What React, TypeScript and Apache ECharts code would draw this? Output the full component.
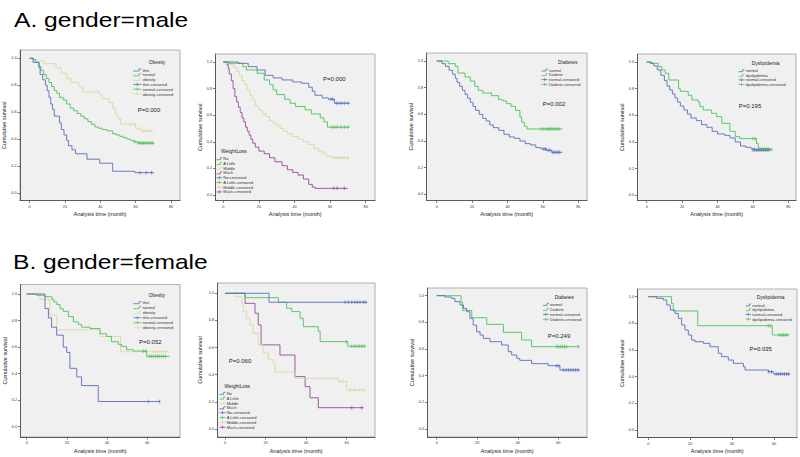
import React, { useEffect, useRef } from 'react';
import * as echarts from 'echarts';

// ---------------- data ----------------
// A. male — Obesity
const mObThin = [[0,1],[2,0.97],[5.5,0.93],[6,0.88],[7.5,0.84],[9,0.8],[10,0.76],[11,0.71],[12,0.66],[13,0.62],[14,0.57],[17,0.52],[18,0.47],[19.5,0.43],[21,0.39],[22,0.35],[24,0.32],[26,0.29],[32.5,0.25],[39.7,0.22],[47,0.16],[59.6,0.15],[70.4,0.15]];
const mObThinC = [[62.5,0.15],[66,0.15],[69,0.15]];
const mObNormal = [[0,1],[2,0.99],[3.5,0.97],[5,0.94],[6.5,0.91],[8,0.88],[9.5,0.85],[11,0.82],[12.5,0.79],[14,0.76],[15.5,0.74],[17,0.71],[19,0.69],[21,0.66],[23,0.63],[25,0.61],[27,0.59],[29,0.57],[31,0.55],[33,0.53],[35,0.51],[37,0.49],[39,0.48],[41,0.47],[44,0.46],[47,0.44],[49,0.43],[51,0.42],[53,0.41],[55,0.4],[57,0.39],[59,0.38],[61,0.37],[70.5,0.37]];
const mObNormalC = [[59.5,0.38],[61.5,0.37],[62.5,0.37],[63.5,0.37],[64.5,0.37],[65.5,0.37],[66.5,0.37],[67.5,0.37],[68.5,0.37],[69.5,0.37]];
const mObObesity = [[0,1],[3,0.98],[8,0.96],[15,0.93],[18,0.89],[21,0.85],[23.5,0.82],[28,0.79],[30,0.75],[39.5,0.73],[41,0.7],[45,0.67],[47,0.63],[48.5,0.58],[50,0.55],[51.5,0.51],[60,0.48],[63,0.46],[70,0.46]];
const mObObesityC = [[57,0.51],[59,0.51],[64.5,0.46],[66.5,0.46],[68.5,0.46]];

// A. male — WeightLoss
const mWlNo = [[0,1],[8.5,0.99],[14,0.965],[19,0.94],[23.5,0.9],[28,0.88],[33,0.865],[39,0.85],[44,0.84],[48,0.81],[50,0.78],[51.5,0.75],[55.5,0.73],[59,0.72],[62.5,0.69],[71,0.69]];
const mWlNoC = [[60.5,0.72],[61.5,0.72],[63.5,0.69],[65,0.69],[66.5,0.69],[68,0.69],[70,0.69]];
const mWlLittle = [[0,1],[3,0.99],[11,0.965],[13,0.94],[19,0.915],[23,0.865],[26,0.83],[28,0.79],[30,0.755],[34.5,0.72],[37.5,0.69],[40.5,0.665],[46,0.64],[49.5,0.61],[54.5,0.58],[56.5,0.55],[58.5,0.51],[71,0.51]];
const mWlLittleC = [[61,0.51],[62.5,0.51],[64,0.51],[66,0.51],[68,0.51],[70,0.51]];
const mWlMiddle = [[0,1],[2,0.99],[4,0.98],[6,0.96],[7.5,0.93],[9,0.9],[10.5,0.86],[12,0.83],[13.5,0.79],[15,0.75],[16.5,0.71],[18,0.67],[20,0.64],[22,0.61],[24,0.59],[26,0.56],[28,0.54],[30,0.52],[32,0.5],[34,0.48],[36,0.46],[39,0.44],[42,0.42],[45,0.4],[48,0.38],[51,0.35],[53.5,0.33],[56,0.31],[58,0.29],[61,0.28],[71,0.28]];
const mWlMiddleC = [[62,0.28],[63.5,0.28],[65,0.28],[66.5,0.28],[68,0.28],[70,0.28]];
const mWlMuch = [[0,1],[2,0.98],[2.8,0.95],[3.3,0.91],[4.5,0.86],[5.5,0.8],[6.5,0.74],[7.5,0.7],[8.5,0.66],[9.5,0.62],[10.5,0.58],[11.5,0.55],[12.5,0.51],[13.5,0.48],[14.5,0.45],[15.5,0.42],[16.5,0.39],[18,0.36],[20,0.33],[23,0.31],[26,0.28],[29,0.25],[33,0.22],[36,0.19],[39,0.17],[42,0.15],[45,0.12],[48,0.08],[50,0.06],[51.5,0.05],[70,0.05]];
const mWlMuchC = [[62,0.05],[64,0.05],[68,0.05]];

// A. male — Diabetes
const mDbNormal = [[0,1],[3,0.98],[5,0.96],[7,0.93],[9,0.9],[10.5,0.87],[11.5,0.84],[13,0.81],[14.5,0.78],[16,0.75],[17.5,0.72],[19,0.69],[20.5,0.66],[22,0.63],[24,0.6],[26,0.57],[28,0.55],[30,0.52],[32,0.5],[35,0.48],[38,0.45],[41,0.43],[44,0.42],[47,0.4],[50,0.38],[53,0.37],[56,0.35],[59,0.34],[62,0.33],[65,0.315],[71,0.315]];
const mDbNormalC = [[60.5,0.34],[61.5,0.34],[63,0.33],[64,0.33],[65.5,0.315],[66.5,0.315],[67.5,0.315],[68.5,0.315],[69.5,0.315]];
const mDbDiab = [[0,1],[6.5,0.98],[10.5,0.96],[12,0.91],[16,0.88],[19,0.85],[21.5,0.81],[23.5,0.78],[26,0.76],[31,0.74],[35,0.71],[37.5,0.7],[39.5,0.68],[42,0.66],[44.5,0.63],[47,0.58],[48,0.54],[49.5,0.51],[51,0.49],[71,0.49]];
const mDbDiabC = [[59,0.49],[60.5,0.49],[62,0.49],[63,0.49],[64,0.49],[65,0.49],[66,0.49],[67,0.49],[68,0.49],[69,0.49]];

// A. male — Dyslipidemia
const mDyNormal = [[0,1],[2,0.99],[4,0.97],[6,0.94],[8,0.9],[10,0.86],[11.5,0.82],[13,0.79],[14.5,0.76],[16,0.73],[17.5,0.7],[19,0.67],[21,0.64],[23,0.61],[25,0.58],[28,0.56],[31,0.53],[34,0.51],[37,0.48],[40,0.46],[44,0.45],[47,0.43],[50,0.4],[53,0.37],[56,0.36],[59,0.35],[61,0.34],[71,0.34]];
const mDyNormalC = [[60,0.34],[61,0.34],[62,0.34],[63,0.34],[64,0.34],[65,0.34],[66,0.34],[67,0.34],[68,0.34],[69,0.34]];
const mDyDys = [[0,1],[3,0.99],[6.5,0.965],[8.5,0.94],[10.5,0.915],[12.5,0.865],[18,0.8],[19,0.78],[23.5,0.75],[25.5,0.715],[29,0.7],[30,0.665],[32,0.64],[36.7,0.615],[39.5,0.59],[42.4,0.54],[47,0.48],[50,0.44],[52.7,0.425],[62,0.39],[63,0.35],[71,0.35]];
const mDyDysC = [[60,0.425],[61.3,0.425],[64,0.35],[65.5,0.35],[67,0.35],[68.5,0.35]];

// B. female — Obesity
const fObThin = [[0,1],[9.1,0.89],[10.8,0.82],[12.4,0.75],[14.9,0.69],[18.2,0.6],[19.9,0.56],[21.5,0.44],[24.9,0.375],[27.3,0.31],[35.6,0.19],[66.3,0.19]];
const fObThinC = [[60.5,0.19],[66,0.19]];
const fObNormal = [[0,1],[5,0.99],[9,0.98],[12.5,0.96],[13.5,0.94],[15,0.92],[16.6,0.89],[18.2,0.87],[20.7,0.83],[23.2,0.79],[25.7,0.77],[27.3,0.75],[31.5,0.74],[36.5,0.7],[39.8,0.68],[42.2,0.64],[45.6,0.62],[47.2,0.605],[49.7,0.58],[53,0.57],[59.7,0.53],[71,0.53]];
const fObNormalC = [[58,0.57],[59.2,0.57],[61,0.53],[62,0.53],[63,0.53],[64,0.53],[65,0.53],[66,0.53],[67,0.53],[68,0.53],[69,0.53]];
const fObObesity = [[0,1],[6.6,0.96],[11.5,0.84],[14.9,0.73],[36.5,0.68],[46.7,0.565],[71,0.565]];
const fObObesityC = [[63,0.565],[65,0.565],[67,0.565],[69,0.565]];

// B. female — WeightLoss
const fWlNo = [[0,1],[21.7,0.934],[69.9,0.934]];
const fWlNoC = [[59.2,0.934],[60.8,0.934],[62.5,0.934],[64,0.934],[65.3,0.934],[66.6,0.934],[68.2,0.934],[69.4,0.934]];
const fWlLittle = [[0,1],[9.9,0.968],[26.3,0.934],[30.4,0.89],[32.9,0.865],[37,0.816],[38.6,0.754],[46,0.72],[46.9,0.644],[60.5,0.61],[69.5,0.61]];
const fWlLittleC = [[59.8,0.644],[62.5,0.61],[63.8,0.61],[65,0.61],[66.2,0.61],[67.4,0.61],[68.6,0.61]];
const fWlMiddle = [[0,1],[4.9,0.975],[8.2,0.926],[9,0.865],[10.5,0.816],[12.3,0.767],[13.9,0.705],[16.4,0.62],[18.9,0.56],[21.4,0.51],[23.8,0.484],[24.7,0.42],[34.5,0.373],[55.9,0.35],[60,0.287],[69.5,0.287]];
const fWlMiddleC = [[57,0.35],[58.3,0.35],[62,0.287],[64,0.287],[66,0.287],[68,0.287]];
const fWlMuch = [[0,1],[9.9,0.926],[14.8,0.853],[16.4,0.767],[17.8,0.62],[27.1,0.545],[34.5,0.386],[39.5,0.312],[41.9,0.23],[46,0.157],[68.2,0.157]];
const fWlMuchC = [[62.5,0.157],[67.4,0.157]];

// B. female — Diabetes
const fDbNormal = [[0,1],[4.1,0.99],[7.4,0.98],[9,0.955],[11.5,0.93],[13.2,0.905],[14.8,0.88],[16.4,0.83],[18,0.78],[19.7,0.73],[21.4,0.705],[23,0.68],[26.3,0.655],[32,0.63],[35.3,0.58],[37,0.555],[39.5,0.53],[41,0.515],[46.8,0.49],[55,0.475],[60.8,0.4425],[70.5,0.4425]];
const fDbNormalC = [[59.2,0.475],[60.2,0.475],[62.5,0.4425],[63.8,0.4425],[65,0.4425],[66.2,0.4425],[67.4,0.4425],[68.6,0.4425],[69.8,0.4425]];
const fDbDiab = [[0,1],[12,0.95],[12.8,0.89],[17.3,0.835],[24.7,0.785],[32.9,0.725],[41.9,0.6675],[46.8,0.6175],[69.9,0.6175]];
const fDbDiabC = [[59.2,0.6175],[60,0.6175],[61,0.6175],[62,0.6175],[63,0.6175],[64,0.6175],[69.9,0.6175]];

// B. female — Dyslipidemia
const fDyNormal = [[0,1],[4,0.9875],[7.2,0.975],[8.8,0.9375],[10.5,0.9],[12.7,0.875],[14.3,0.8375],[15.9,0.7875],[17.5,0.75],[19.1,0.7125],[20.7,0.675],[22.3,0.6625],[26.3,0.65],[29.4,0.625],[33.4,0.575],[35,0.55],[38.2,0.525],[40.6,0.5],[45.4,0.475],[46.2,0.45],[57.3,0.4375],[59.7,0.42],[67.6,0.42]];
const fDyNormalC = [[57.5,0.4375],[58.8,0.4375],[61,0.42],[62,0.42],[63,0.42],[64,0.42],[65,0.42],[66,0.42],[67,0.42]];
const fDyDys = [[0,1],[11.1,0.95],[11.9,0.8925],[23.6,0.7825],[59.2,0.7125],[66.8,0.7125]];
const fDyDysC = [[57.3,0.7825],[58.4,0.7825],[62.5,0.7125],[63.5,0.7125],[64.5,0.7125],[65.5,0.7125],[66.5,0.7125]];

// tick labels
const xTicksTop = [0, 20, 40, 60, 80];
const xTicksBottom = [0, 20, 40, 60];
const yTicks = [0, 0.2, 0.4, 0.6, 0.8, 1.0];

const sectionTitles = ['A. gender=male', 'B. gender=female'];
const pValues = ['P=0.000', 'P=0.000', 'P=0.002', 'P=0.195', 'P=0.052', 'P=0.060', 'P=0.249', 'P=0.035'];
const legendTitles = ['Obesity', 'WeightLoss', 'Diabetes', 'Dyslipidemia', 'Obesity', 'WeightLoss', 'Diabetes', 'Dyslipidemia'];
const obesityGroups = ['thin', 'normal', 'obesity'];
const weightGroups = ['No', 'A Little', 'Middle', 'Much'];
const diabetesGroups = ['normal', 'Diabete'];
const dysGroups = ['normal', 'dyslipidemia'];

// ---------------- styling / layout ----------------
const FONT = '"Liberation Sans", Arial, Helvetica, sans-serif';
const BLUE = '#5a6dc0';
const GREEN = '#4cc458';
const TAN = '#dcd6a2';
const PURPLE = '#96489a';
const COLORS4 = [BLUE, GREEN, TAN, PURPLE];

type Layout = { L: number; T: number; R: number; B: number; x0: number; xr: number; xRef: number; y1: number; y0: number; yNameGap: number };
type LegendPos = { sx: number; textX: number; y0: number; dy: number; tx: number; ty: number };
type Panel = { layout: Layout; legend: LegendPos; pPos: [number, number]; groups: string[]; curves: number[][][]; cens: number[][][]; xTicks: number[] };

const panels: Panel[] = [
  { layout: { L: 20, T: 50, R: 180, B: 200.5, x0: 29.5, xr: 171, xRef: 80, y1: 58.3, y0: 192.8, yNameGap: 10.2 },
    legend: { sx: 133, textX: 142.7, y0: 70, dy: 4.8, tx: 157, ty: 62.3 }, pPos: [149, 110.3],
    groups: obesityGroups, curves: [mObThin, mObNormal, mObObesity], cens: [mObThinC, mObNormalC, mObObesityC], xTicks: xTicksTop },
  { layout: { L: 215.5, T: 54, R: 375, B: 200.5, x0: 223.3, xr: 365.7, xRef: 80, y1: 62, y0: 195, yNameGap: 12.7 },
    legend: { sx: 216.5, textX: 223.3, y0: 158.7, dy: 4.75, tx: 234, ty: 151.7 }, pPos: [334.3, 79.3],
    groups: weightGroups, curves: [mWlNo, mWlLittle, mWlMiddle, mWlMuch], cens: [mWlNoC, mWlLittleC, mWlMiddleC, mWlMuchC], xTicks: xTicksTop },
  { layout: { L: 426.5, T: 53, R: 587, B: 200.5, x0: 436.7, xr: 578.3, xRef: 80, y1: 61, y0: 194.3, yNameGap: 8.7 },
    legend: { sx: 541.5, textX: 549, y0: 70, dy: 4.8, tx: 567.7, ty: 62.7 }, pPos: [554, 104.3],
    groups: diabetesGroups, curves: [mDbNormal, mDbDiab], cens: [mDbNormalC, mDbDiabC], xTicks: xTicksTop },
  { layout: { L: 637.5, T: 54, R: 796, B: 200.5, x0: 646.7, xr: 788.3, xRef: 80, y1: 62, y0: 195.3, yNameGap: 9.7 },
    legend: { sx: 738.5, textX: 745.7, y0: 70.7, dy: 4.6, tx: 765.7, ty: 63.3 }, pPos: [750, 105.7],
    groups: dysGroups, curves: [mDyNormal, mDyDys], cens: [mDyNormalC, mDyDysC], xTicks: xTicksTop },
  { layout: { L: 20.5, T: 284.5, R: 180, B: 437, x0: 26.7, xr: 147.3, xRef: 60, y1: 294, y0: 426.7, yNameGap: 12.7 },
    legend: { sx: 133.3, textX: 142.7, y0: 302.7, dy: 5, tx: 156.7, ty: 295 }, pPos: [150.3, 341.7],
    groups: obesityGroups, curves: [fObThin, fObNormal, fObObesity], cens: [fObThinC, fObNormalC, fObObesityC], xTicks: xTicksBottom },
  { layout: { L: 217.5, T: 283, R: 375, B: 437, x0: 225, xr: 346.7, xRef: 60, y1: 293.3, y0: 429, yNameGap: 14.7 },
    legend: { sx: 219.5, textX: 226.7, y0: 393.3, dy: 4.85, tx: 237.3, ty: 386.7 }, pPos: [240, 361],
    groups: weightGroups, curves: [fWlNo, fWlLittle, fWlMiddle, fWlMuch], cens: [fWlNoC, fWlLittleC, fWlMiddleC, fWlMuchC], xTicks: xTicksBottom },
  { layout: { L: 427.5, T: 288, R: 587, B: 437, x0: 436.7, xr: 558.3, xRef: 60, y1: 295.7, y0: 429, yNameGap: 9.7 },
    legend: { sx: 543, textX: 550, y0: 304.3, dy: 5, tx: 564.3, ty: 297 }, pPos: [559, 336],
    groups: diabetesGroups, curves: [fDbNormal, fDbDiab], cens: [fDbNormalC, fDbDiabC], xTicks: xTicksBottom },
  { layout: { L: 637.5, T: 289, R: 797, B: 437.5, x0: 648.3, xr: 774, xRef: 60, y1: 296.7, y0: 430, yNameGap: 9.7 },
    legend: { sx: 745.5, textX: 752.3, y0: 305, dy: 4.7, tx: 770.7, ty: 297.7 }, pPos: [760.7, 349],
    groups: dysGroups, curves: [fDyNormal, fDyDys], cens: [fDyNormalC, fDyDysC], xTicks: xTicksBottom },
];

const CROSS = 'path://M5,0L5,10M0,5L10,5';

function buildOption() {
  const grid: any[] = [];
  const xAxis: any[] = [];
  const yAxis: any[] = [];
  const series: any[] = [];
  const graphic: any[] = [];

  panels.forEach((p, i) => {
    const g = p.layout;
    const xs = (g.xr - g.x0) / g.xRef;
    const ys = g.y0 - g.y1;
    grid.push({
      left: g.L, top: g.T, width: g.R - g.L, height: g.B - g.T,
      show: true, backgroundColor: '#f0f0f0', borderColor: '#b0b0b0', borderWidth: 1,
      containLabel: false, outerBoundsMode: 'none',
    });
    xAxis.push({
      gridIndex: i, type: 'value',
      min: (g.L - g.x0) / xs, max: (g.R - g.x0) / xs,
      axisLine: { show: true, onZero: false, lineStyle: { color: '#5a5a5a', width: 1 } },
      axisTick: { show: true, length: 2.5, customValues: p.xTicks, lineStyle: { color: '#5a5a5a', width: 0.8 } },
      axisLabel: { show: true, customValues: p.xTicks, fontSize: 3.8, color: '#333', margin: 4, fontFamily: FONT },
      splitLine: { show: false },
      name: 'Analysis time (month)', nameLocation: 'middle', nameGap: 10.6,
      nameTextStyle: { fontSize: 5.5, color: '#222', fontFamily: FONT },
    });
    yAxis.push({
      gridIndex: i, type: 'value',
      min: -(g.B - g.y0) / ys, max: 1 + (g.y1 - g.T) / ys,
      axisLine: { show: true, onZero: false, lineStyle: { color: '#5a5a5a', width: 1 } },
      axisTick: { show: true, length: 2.5, customValues: yTicks, lineStyle: { color: '#5a5a5a', width: 0.8 } },
      axisLabel: { show: true, customValues: yTicks, fontSize: 3.8, color: '#333', margin: 3.5, fontFamily: FONT,
        formatter: (v: number) => v.toFixed(1) },
      splitLine: { show: false },
      name: 'Cumulative survival', nameLocation: 'middle', nameRotate: 90, nameGap: g.yNameGap,
      nameTextStyle: { fontSize: 5.5, color: '#222', fontFamily: FONT },
    });

    p.curves.forEach((c, k) => {
      const color = COLORS4[k];
      series.push({
        type: 'line', name: `${p.groups[k]}#${i}`, xAxisIndex: i, yAxisIndex: i,
        data: c, step: 'end', showSymbol: false, symbol: 'none', silent: true,
        lineStyle: { color, width: 0.9 }, z: 3 + (p.curves.length - k),
      });
      series.push({
        type: 'scatter', name: `${p.groups[k]}-censored#${i}`, xAxisIndex: i, yAxisIndex: i,
        data: p.cens[k], symbol: CROSS, symbolSize: [3, 3.8], silent: true,
        itemStyle: { color: 'rgba(0,0,0,0)', borderColor: color, borderWidth: 0.8 }, z: 10,
      });
    });

    // legend (drawn as graphics)
    const lg = p.legend;
    graphic.push({
      type: 'text', x: lg.tx, y: lg.ty, silent: true,
      style: { text: legendTitles[i], fontSize: 4.9, fill: '#222', fontFamily: FONT, align: 'center', verticalAlign: 'middle' },
    });
    const names = [...p.groups, ...p.groups.map((n) => `${n}-censored`)];
    const sw = lg.textX - lg.sx - 1.2;
    names.forEach((n, r) => {
      const k = r % p.groups.length;
      const censored = r >= p.groups.length;
      const color = COLORS4[k];
      const y = lg.y0 + r * lg.dy;
      if (!censored) {
        graphic.push({ type: 'polyline', silent: true,
          shape: { points: [[lg.sx, y + 1], [lg.sx + sw * 0.7, y + 1], [lg.sx + sw * 0.7, y - 1], [lg.sx + sw, y - 1]] },
          style: { stroke: color, lineWidth: 0.8, fill: 'none' } });
      } else {
        graphic.push({ type: 'line', silent: true, shape: { x1: lg.sx, y1: y, x2: lg.sx + sw, y2: y }, style: { stroke: color, lineWidth: 0.8 } });
        graphic.push({ type: 'line', silent: true, shape: { x1: lg.sx + sw / 2, y1: y - 1.5, x2: lg.sx + sw / 2, y2: y + 1.5 }, style: { stroke: color, lineWidth: 0.8 } });
      }
      graphic.push({ type: 'text', x: lg.textX, y, silent: true,
        style: { text: n, fontSize: 4, fill: '#333', fontFamily: FONT, align: 'left', verticalAlign: 'middle' } });
    });

    graphic.push({
      type: 'text', x: p.pPos[0], y: p.pPos[1], silent: true,
      style: { text: pValues[i], fontSize: 6, fill: '#222', fontFamily: FONT, align: 'center', verticalAlign: 'middle' },
    });
  });

  graphic.push({ type: 'text', x: 14, y: 20, scaleX: 1.2, silent: true,
    style: { text: sectionTitles[0], fontSize: 20.5, fill: '#000', fontFamily: FONT, align: 'left', verticalAlign: 'middle' } });
  graphic.push({ type: 'text', x: 13, y: 262.5, scaleX: 1.2, silent: true,
    style: { text: sectionTitles[1], fontSize: 20.5, fill: '#000', fontFamily: FONT, align: 'left', verticalAlign: 'middle' } });

  return {
    animation: false,
    backgroundColor: '#ffffff',
    textStyle: { fontFamily: FONT },
    grid, xAxis, yAxis, series, graphic,
  };
}

export default function App() {
  const ref = useRef<HTMLDivElement>(null);
  useEffect(() => {
    if (!ref.current) return;
    const chart = echarts.init(ref.current, undefined, { renderer: 'svg' });
    chart.setOption(buildOption() as any);
    return () => chart.dispose();
  }, []);
  return <div ref={ref} style={{ position: 'fixed', left: 0, top: 0, width: 800, height: 457 }} />;
}
